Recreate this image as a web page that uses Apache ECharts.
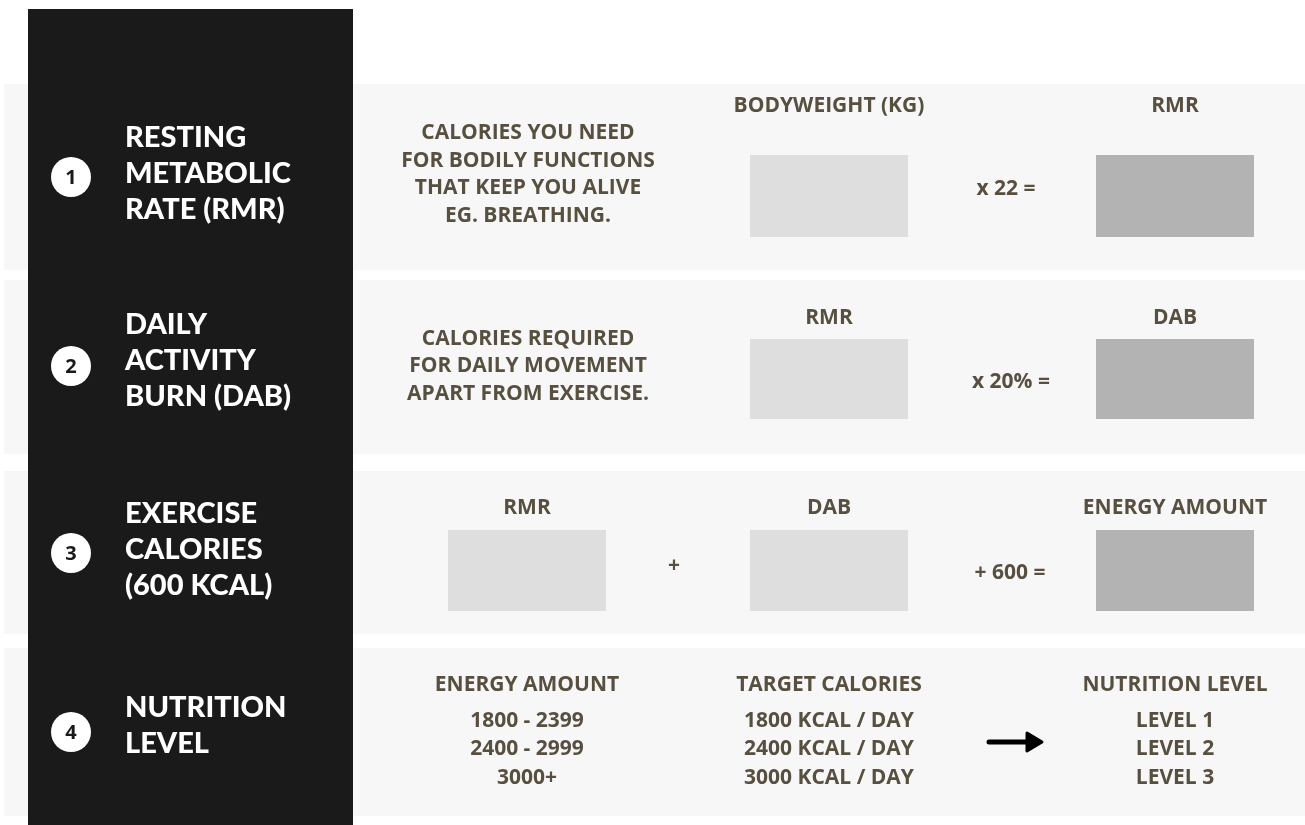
<!DOCTYPE html>
<html>
<head>
<meta charset="utf-8">
<script src="https://cdn.jsdelivr.net/npm/echarts@6/dist/echarts.min.js"></script>
<style>html,body{margin:0;padding:0;background:#fff}#c{width:1305px;height:825px}</style>
</head>
<body>
<div id="c"></div>
<script>
// ---- content ----
const stepNumbers = ['1', '2', '3', '4'];
const stepTitles = [
  ['RESTING', 'METABOLIC', 'RATE (RMR)'],
  ['DAILY', 'ACTIVITY', 'BURN (DAB)'],
  ['EXERCISE', 'CALORIES', '(600 KCAL)'],
  ['NUTRITION', 'LEVEL']
];
const stepDescriptions = [
  ['CALORIES YOU NEED', 'FOR BODILY FUNCTIONS', 'THAT KEEP YOU ALIVE', 'EG. BREATHING.'],
  ['CALORIES REQUIRED', 'FOR DAILY MOVEMENT', 'APART FROM EXERCISE.'],
  null,
  null
];
const row1Labels = ['BODYWEIGHT (KG)', 'RMR'];
const row1Operator = 'x 22 =';
const row2Labels = ['RMR', 'DAB'];
const row2Operator = 'x 20% =';
const row3Labels = ['RMR', 'DAB', 'ENERGY AMOUNT'];
const row3Operators = ['+', '+ 600 ='];
const row4Headers = ['ENERGY AMOUNT', 'TARGET CALORIES', 'NUTRITION LEVEL'];
const energyRanges = ['1800 - 2399', '2400 - 2999', '3000+'];
const targetCalories = ['1800 KCAL / DAY', '2400 KCAL / DAY', '3000 KCAL / DAY'];
const nutritionLevels = ['LEVEL 1', 'LEVEL 2', 'LEVEL 3'];

// ---- layout ----
const TXT = '#575040';
const BODY_FONT = 'bold 21px "Open Sans", sans-serif';
const TITLE_FONT = '900 29px Lato, sans-serif';
const bands = [[84, 270], [280, 454], [471, 634], [648, 816]];
const circleY = [177, 366, 553, 732];
const titleFirstY = [138, 325, 514, 708];
const colX = [527, 829, 1175];
const g = [];

bands.forEach(b => g.push({type: 'rect', shape: {x: 4, y: b[0], width: 1301, height: b[1] - b[0]}, style: {fill: '#f7f7f7'}}));
g.push({type: 'rect', shape: {x: 28, y: 9, width: 325, height: 816}, style: {fill: '#1a1a1a'}});

stepNumbers.forEach((n, i) => {
  g.push({type: 'circle', shape: {cx: 71, cy: circleY[i], r: 20}, style: {fill: '#ffffff'}});
  g.push({type: 'text', style: {text: n, x: 71, y: circleY[i] + 1, font: 'bold 20px "Open Sans", sans-serif', fill: '#1a1a1a', align: 'center', verticalAlign: 'middle'}});
  stepTitles[i].forEach((t, j) => {
    g.push({type: 'text', style: {text: t, x: 125, y: titleFirstY[i] + j * 36, font: TITLE_FONT, fill: '#ffffff', align: 'left', verticalAlign: 'middle'}});
  });
});

function txt(t, x, y) {
  g.push({type: 'text', style: {text: t, x: x, y: y, font: BODY_FONT, fill: TXT, align: 'center', verticalAlign: 'middle'}});
}
function box(x, y, h, fill) {
  g.push({type: 'rect', shape: {x: x, y: y, width: 158, height: h}, style: {fill: fill}});
}
const LIGHT = '#dedede', DARK = '#b3b3b3';

// row 1
stepDescriptions[0].forEach((t, j) => txt(t, 528, 133 + j * 27.7));
txt(row1Labels[0], colX[1], 106);
txt(row1Labels[1], colX[2], 106);
box(750, 155, 82, LIGHT);
box(1096, 155, 82, DARK);
txt(row1Operator, 1006, 189);

// row 2
stepDescriptions[1].forEach((t, j) => txt(t, 528, 339 + j * 27.5));
txt(row2Labels[0], colX[1], 318);
txt(row2Labels[1], colX[2], 318);
box(750, 339, 80, LIGHT);
box(1096, 339, 80, DARK);
txt(row2Operator, 1011, 382);

// row 3
row3Labels.forEach((t, j) => txt(t, colX[j], 508));
box(448, 530, 81, LIGHT);
box(750, 530, 81, LIGHT);
box(1096, 530, 81, DARK);
txt(row3Operators[0], 674, 566);
txt(row3Operators[1], 1010, 573);

// row 4
row4Headers.forEach((t, j) => txt(t, colX[j], 685));
[energyRanges, targetCalories, nutritionLevels].forEach((col, j) => {
  col.forEach((t, k) => txt(t, colX[j], 721 + k * 28.5));
});
g.push({type: 'line', shape: {x1: 989, y1: 742, x2: 1030, y2: 742}, style: {stroke: '#000', lineWidth: 5, lineCap: 'round'}});
g.push({type: 'polygon', shape: {points: [[1027, 733], [1042, 742], [1027, 751]]}, style: {fill: '#000', stroke: '#000', lineWidth: 3, lineJoin: 'round'}});

const chart = echarts.init(document.getElementById('c'));
chart.setOption({backgroundColor: '#ffffff', graphic: {elements: g}});
</script>
</body>
</html>
